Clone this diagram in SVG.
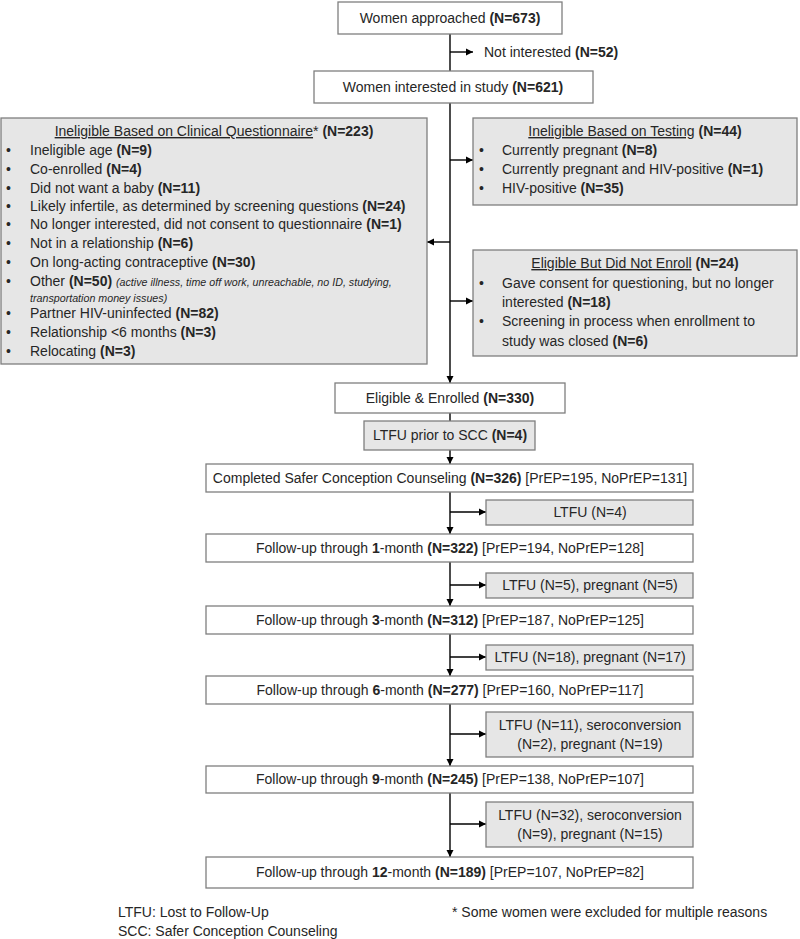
<svg xmlns="http://www.w3.org/2000/svg" width="800" height="939" viewBox="0 0 800 939">
<defs>
<marker id="ah" markerWidth="8" markerHeight="8" refX="7" refY="4" orient="auto" markerUnits="userSpaceOnUse">
<path d="M0,0.5 L7,4 L0,7.5 Z" fill="#000"/>
</marker>
<style>
text{font-family:"Liberation Sans",Arial,sans-serif;font-size:14px;fill:#262626}
.c{text-anchor:middle}
.b{font-weight:bold}
.w{fill:#fff;stroke:#7f7f7f;stroke-width:1.3}
.g{fill:#e6e6e6;stroke:#7f7f7f;stroke-width:1.3}
.ln{fill:none;stroke:#000;stroke-width:1.4}
.it{font-style:italic;font-size:10.7px}
.u{text-decoration:underline}
</style>
</defs>
<rect width="800" height="939" fill="#fff"/>

<g id="connectors">
<line class="ln" x1="450" y1="34" x2="450" y2="71"/>
<line class="ln" x1="450" y1="52" x2="473" y2="52" marker-end="url(#ah)"/>
<line class="ln" x1="450" y1="103" x2="450" y2="383" marker-end="url(#ah)"/>
<line class="ln" x1="450" y1="160" x2="473" y2="160" marker-end="url(#ah)"/>
<line class="ln" x1="450" y1="242" x2="427" y2="242" marker-end="url(#ah)"/>
<line class="ln" x1="450" y1="301" x2="473" y2="301" marker-end="url(#ah)"/>
<line class="ln" x1="450" y1="413" x2="450" y2="421"/>
<line class="ln" x1="450" y1="450" x2="450" y2="464" marker-end="url(#ah)"/>
<line class="ln" x1="450" y1="492" x2="450" y2="534" marker-end="url(#ah)"/>
<line class="ln" x1="450" y1="512" x2="486" y2="512" marker-end="url(#ah)"/>
<line class="ln" x1="450" y1="562" x2="450" y2="606" marker-end="url(#ah)"/>
<line class="ln" x1="450" y1="585" x2="486" y2="585" marker-end="url(#ah)"/>
<line class="ln" x1="450" y1="634" x2="450" y2="676" marker-end="url(#ah)"/>
<line class="ln" x1="450" y1="657" x2="486" y2="657" marker-end="url(#ah)"/>
<line class="ln" x1="450" y1="704" x2="450" y2="766" marker-end="url(#ah)"/>
<line class="ln" x1="450" y1="734" x2="486" y2="734" marker-end="url(#ah)"/>
<line class="ln" x1="450" y1="793" x2="450" y2="857" marker-end="url(#ah)"/>
<line class="ln" x1="450" y1="824" x2="486" y2="824" marker-end="url(#ah)"/>
</g>

<g id="approached">
<rect class="w" x="338" y="2" width="224" height="32"/>
<text class="c" x="450" y="23">Women approached <tspan class="b">(N=673)</tspan></text>
</g>
<g id="not-interested">
<text x="484" y="57">Not interested <tspan class="b">(N=52)</tspan></text>
</g>
<g id="interested">
<rect class="w" x="314" y="71" width="279" height="32"/>
<text class="c" x="453" y="92">Women interested in study <tspan class="b">(N=621)</tspan></text>
</g>

<g id="ineligible-questionnaire">
<rect class="g" x="1" y="118" width="426" height="246"/>
<text class="c" x="214" y="136"><tspan class="u">Ineligible Based on Clinical Questionnaire</tspan>* <tspan class="b">(N=223)</tspan></text>
<text x="6" y="155">•</text><text x="30" y="155">Ineligible age <tspan class="b">(N=9)</tspan></text>
<text x="6" y="174">•</text><text x="30" y="174">Co-enrolled <tspan class="b">(N=4)</tspan></text>
<text x="6" y="193">•</text><text x="30" y="193">Did not want a baby <tspan class="b">(N=11)</tspan></text>
<text x="6" y="211">•</text><text x="30" y="211">Likely infertile, as determined by screening questions <tspan class="b">(N=24)</tspan></text>
<text x="6" y="229">•</text><text x="30" y="229">No longer interested, did not consent to questionnaire <tspan class="b">(N=1)</tspan></text>
<text x="6" y="248">•</text><text x="30" y="248">Not in a relationship <tspan class="b">(N=6)</tspan></text>
<text x="6" y="267">•</text><text x="30" y="267">On long-acting contraceptive <tspan class="b">(N=30)</tspan></text>
<text x="6" y="286">•</text><text x="30" y="286">Other <tspan class="b">(N=50)</tspan> <tspan class="it">(active illness, time off work, unreachable, no ID, studying,</tspan></text>
<text x="30" y="302" class="it">transportation money issues)</text>
<text x="6" y="318">•</text><text x="30" y="318">Partner HIV-uninfected <tspan class="b">(N=82)</tspan></text>
<text x="6" y="337">•</text><text x="30" y="337">Relationship &lt;6 months <tspan class="b">(N=3)</tspan></text>
<text x="6" y="356">•</text><text x="30" y="356">Relocating <tspan class="b">(N=3)</tspan></text>
</g>

<g id="ineligible-testing">
<rect class="g" x="473" y="118" width="324" height="87"/>
<text class="c" x="635" y="136"><tspan class="u">Ineligible Based on Testing</tspan> <tspan class="b">(N=44)</tspan></text>
<text x="479" y="155">•</text><text x="502" y="155">Currently pregnant <tspan class="b">(N=8)</tspan></text>
<text x="479" y="174">•</text><text x="502" y="174">Currently pregnant and HIV-positive <tspan class="b">(N=1)</tspan></text>
<text x="479" y="193">•</text><text x="502" y="193">HIV-positive <tspan class="b">(N=35)</tspan></text>
</g>

<g id="eligible-not-enrolled">
<rect class="g" x="473" y="250" width="324" height="106"/>
<text class="c" x="635" y="268"><tspan class="u">Eligible But Did Not Enroll</tspan> <tspan class="b">(N=24)</tspan></text>
<text x="479" y="288">•</text><text x="502" y="288">Gave consent for questioning, but no longer</text>
<text x="502" y="307">interested <tspan class="b">(N=18)</tspan></text>
<text x="479" y="326">•</text><text x="502" y="326">Screening in process when enrollment to</text>
<text x="502" y="346">study was closed <tspan class="b">(N=6)</tspan></text>
</g>

<g id="enrolled">
<rect class="w" x="335" y="383" width="230" height="30"/>
<text class="c" x="450" y="403">Eligible &amp; Enrolled <tspan class="b">(N=330)</tspan></text>
</g>
<g id="ltfu-prior">
<rect class="g" x="364" y="421" width="171" height="29"/>
<text class="c" x="450" y="440">LTFU prior to SCC <tspan class="b">(N=4)</tspan></text>
</g>
<g id="completed-scc">
<rect class="w" x="206" y="464" width="487" height="28"/>
<text class="c" x="450" y="483">Completed Safer Conception Counseling <tspan class="b">(N=326)</tspan> [PrEP=195, NoPrEP=131]</text>
</g>
<g id="ltfu-1">
<rect class="g" x="486" y="500" width="207" height="25"/>
<text class="c" x="590" y="517">LTFU (N=4)</text>
</g>
<g id="fu-1">
<rect class="w" x="206" y="534" width="487" height="28"/>
<text class="c" x="450" y="553">Follow-up through <tspan class="b">1</tspan>-month <tspan class="b">(N=322)</tspan> [PrEP=194, NoPrEP=128]</text>
</g>
<g id="ltfu-2">
<rect class="g" x="486" y="573" width="207" height="25"/>
<text class="c" x="590" y="590">LTFU (N=5), pregnant (N=5)</text>
</g>
<g id="fu-3">
<rect class="w" x="206" y="606" width="487" height="28"/>
<text class="c" x="450" y="625">Follow-up through <tspan class="b">3</tspan>-month <tspan class="b">(N=312)</tspan> [PrEP=187, NoPrEP=125]</text>
</g>
<g id="ltfu-3">
<rect class="g" x="486" y="645" width="207" height="25"/>
<text class="c" x="590" y="662">LTFU (N=18), pregnant (N=17)</text>
</g>
<g id="fu-6">
<rect class="w" x="206" y="676" width="487" height="28"/>
<text class="c" x="450" y="695">Follow-up through <tspan class="b">6</tspan>-month <tspan class="b">(N=277)</tspan> [PrEP=160, NoPrEP=117]</text>
</g>
<g id="ltfu-4">
<rect class="g" x="486" y="712" width="207" height="45"/>
<text class="c" x="590" y="730">LTFU (N=11), seroconversion</text>
<text class="c" x="590" y="749">(N=2), pregnant (N=19)</text>
</g>
<g id="fu-9">
<rect class="w" x="206" y="766" width="487" height="27"/>
<text class="c" x="450" y="784">Follow-up through <tspan class="b">9</tspan>-month <tspan class="b">(N=245)</tspan> [PrEP=138, NoPrEP=107]</text>
</g>
<g id="ltfu-5">
<rect class="g" x="486" y="802" width="207" height="45"/>
<text class="c" x="590" y="820">LTFU (N=32), seroconversion</text>
<text class="c" x="590" y="839">(N=9), pregnant (N=15)</text>
</g>
<g id="fu-12">
<rect class="w" x="206" y="857" width="487" height="31"/>
<text class="c" x="450" y="877">Follow-up through <tspan class="b">12</tspan>-month <tspan class="b">(N=189)</tspan> [PrEP=107, NoPrEP=82]</text>
</g>

<g id="legend">
<text x="118" y="917">LTFU: Lost to Follow-Up</text>
<text x="118" y="936">SCC: Safer Conception Counseling</text>
<text x="452" y="917">* Some women were excluded for multiple reasons</text>
</g>
</svg>
